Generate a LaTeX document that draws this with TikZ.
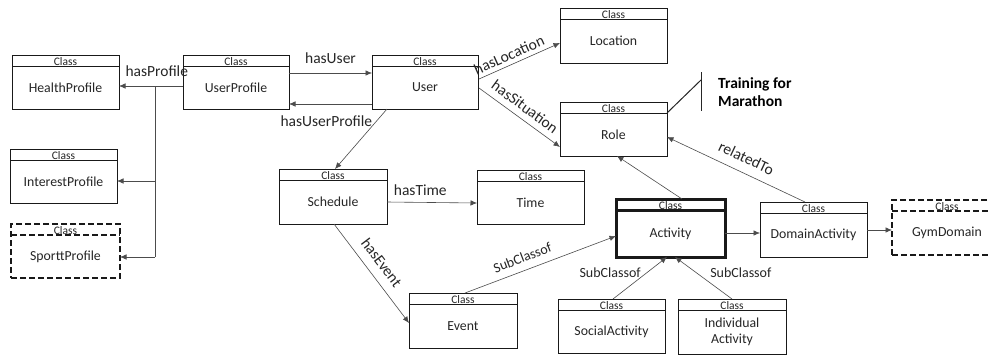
\documentclass[tikz,border=0pt]{standalone}
\usepackage{fontspec}
\setmainfont{Carlito}
\usetikzlibrary{arrows.meta,calc}
\tikzset{
 con/.style={draw=black!70, line width=0.6pt},
 arr/.style={con, -{Latex[length=6.5pt,width=5.5pt]}},
 rarr/.style={con, {Latex[length=6.5pt,width=5.5pt]}-},
 thinb/.style={line width=0.9pt},
 thickb/.style={line width=3pt},
 dashb/.style={line width=2.2pt, dash pattern=on 6pt off 3pt},
 cbox/.style={draw=black!90, rectangle, inner sep=0pt, outer sep=0pt},
 cline/.style={draw=black!90},
 classlbl/.style={font=\fontsize{11.5}{12}\selectfont, text=black!85, inner sep=0pt},
 namelbl/.style={font=\fontsize{13.8}{16}\selectfont, text=black!85, align=center, inner sep=0pt},
 lbl/.style={font=\fontsize{15.5}{17}\selectfont, text=black!85, inner sep=1.5pt},
 slbl/.style={font=\fontsize{14}{16}\selectfont, text=black!85, inner sep=1.5pt},
 notelbl/.style={font=\fontsize{15.5}{18}\selectfont\bfseries, text=black, inner sep=0pt, anchor=base west},
}
\newcommand\umlbox[7][thinb]{%
 \node[cbox,#1,minimum width={(#5-#3)*1pt},minimum height={(#6-#4)*1pt}] (#2) at ({(#3+#5)/2},{(#4+#6)/2}) {};
 \draw[cline,#1] ($(#2.north west)+(0,11)$) -- ($(#2.north east)+(0,11)$);
 \node[classlbl,anchor=base] at ($(#2.north)+(0,10)$) {Class};
 \node[namelbl] at ($(#2.center)+(0,5.5)$) {#7};
}
\begin{document}
\begin{tikzpicture}[x=1pt,y=-1pt]
\useasboundingbox (0,0) rectangle (990,357);
\fill[white] (0,0) rectangle (990,357);
\clip (0,0) rectangle (990,357);

% boxes
\umlbox{health}{12}{55}{119}{109}{HealthProfile}
\umlbox{uprof}{183}{55}{289}{109}{UserProfile}
\umlbox{user}{372}{55}{478}{109}{User}
\umlbox{loc}{560}{8}{667}{63}{Location}
\umlbox{role}{560}{102}{667}{156}{Role}
\umlbox{interest}{10}{149}{117}{203}{InterestProfile}
\umlbox[dashb]{sport}{11}{224}{120}{278}{SporttProfile}
\umlbox{sched}{279}{169}{387}{224}{Schedule}
\umlbox{time}{477}{170}{584}{224}{Time}
\umlbox{event}{409}{293}{517}{348}{Event}
\umlbox[thickb]{act}{616}{199}{725}{257}{Activity}
\umlbox{social}{558}{299}{665}{353}{SocialActivity}
\umlbox{indiv}{678}{299}{786}{354}{Individual\\Activity}
\umlbox{domain}{760}{202}{867}{257}{DomainActivity}
\umlbox[dashb]{gym}{892}{200}{1002}{255}{GymDomain}

% note
\coordinate (brtop) at (701,72);
\coordinate (brbot) at (701,111);
\coordinate (brmid) at (701,80);
\draw[line width=1pt, black!85] (brtop) -- (brbot);
\draw[line width=1pt, black!85] ($(role.north east)+(0,11)$) -- (brmid);
\node[notelbl] (tr1) at (718,88) {Training for};
\node[notelbl] (tr2) at (718,106) {Marathon};

% connectors
\draw[arr] ($(uprof.north east)+(0,18)$) -- node[lbl,above=7.5pt]{hasUser} ($(user.north west)+(0,18)$);
\draw[rarr] ($(uprof.north east)+(0,49)$) -- node[lbl,below=9.5pt,pos=0.45]{hasUserProfile} ($(user.north west)+(0,49)$);
\draw[rarr] ($(health.north east)+(0,31)$) -- coordinate[pos=0.5625] (j1) node[lbl,above=7.5pt,pos=0.59]{hasProfile} ($(uprof.north west)+(0,31)$);
\coordinate (ipt) at ($(interest.north east)+(0,32)$);
\coordinate (spt) at ($(sport.north east)+(0,33)$);
\draw[con] (j1) -- (j1 |- spt);
\draw[arr] (j1 |- ipt) -- (ipt);
\draw[arr] (j1 |- spt) -- (spt);

\draw[arr] ($(user.south west)+(15,0)$) -- ($(sched.north west)+(56,0)$);
\draw[arr] ($(user.north east)+(1,24)$) -- node[lbl,sloped,above=2.5pt,pos=0.42]{hasLocation} ($(loc.north west)+(0,35)$);
\draw[arr] ($(user.north east)+(1,33)$) -- node[lbl,sloped,above=4.8pt,pos=0.48]{hasSituation} ($(role.north west)+(0,45)$);
\draw[rarr] ($(role.north east)+(0,35)$) -- node[lbl,sloped,above=7.5pt,pos=0.53]{relatedTo} ($(domain.north west)+(45,0)$);
\draw[arr] ($(act.north west)+(66,0)$) -- ($(role.south west)+(57,0)$);
\draw[arr] ($(act.north east)+(0,34)$) -- ($(domain.north west)+(0,31)$);
\draw[arr] ($(domain.north east)+(0,28)$) -- ($(gym.north west)+(0,30)$);
\draw[arr] ($(sched.north east)+(0,33)$) -- node[lbl,above=4.5pt,pos=0.37]{hasTime} ($(time.north west)+(0,33)$);
\draw[arr] ($(sched.south west)+(55,0)$) -- node[lbl,sloped,above=7.5pt,pos=0.48]{hasEvent} ($(event.north west)+(0,30)$);
\draw[arr] ($(event.north west)+(56,0)$) -- node[slbl,sloped,above=6pt,pos=0.41]{SubClassof} ($(act.north west)+(0,37)$);
\draw[arr] ($(social.north west)+(55,0)$) -- node[slbl,left=4pt,pos=0.62]{SubClassof} ($(act.south west)+(51,0)$);
\draw[arr] ($(indiv.north west)+(54,0)$) -- node[slbl,right=11.8pt,pos=0.62]{SubClassof} ($(act.south west)+(59,0)$);
\end{tikzpicture}
\end{document}
